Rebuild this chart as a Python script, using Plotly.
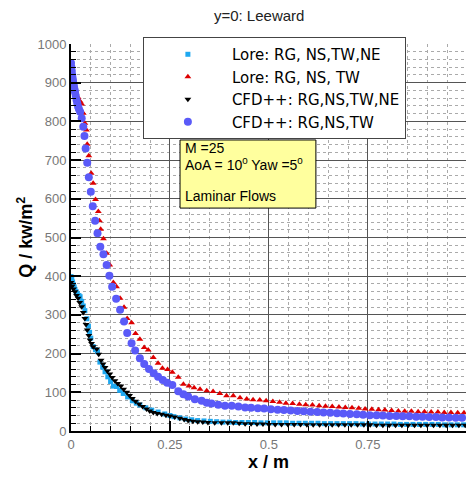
import plotly.graph_objects as go

# Lore: RG, NS,TW,NE  (light blue squares)
x_lore_ne = [0.000, 0.002, 0.004, 0.006, 0.008, 0.010, 0.013, 0.016, 0.020, 0.023,
             0.027, 0.031, 0.035, 0.040, 0.044, 0.047, 0.050, 0.056, 0.062, 0.067,
             0.073, 0.080, 0.086, 0.093, 0.100, 0.107, 0.115, 0.123, 0.132, 0.143,
             0.155, 0.165, 0.174, 0.189, 0.204, 0.220, 0.237, 0.250, 0.260, 0.275,
             0.290, 0.305, 0.320, 0.336, 0.352, 0.368, 0.384, 0.400, 0.416, 0.432,
             0.448, 0.464, 0.480, 0.496, 0.512, 0.528, 0.544, 0.560, 0.576, 0.592,
             0.608, 0.624, 0.640, 0.656, 0.672, 0.688, 0.704, 0.720, 0.736, 0.752,
             0.768, 0.784, 0.800, 0.816, 0.832, 0.848, 0.864, 0.880, 0.896, 0.912,
             0.928, 0.944, 0.960, 0.976, 0.992]
q_lore_ne = [399, 392, 385, 378, 372, 366, 360, 355, 350, 347,
             335, 323, 311, 290, 271, 255, 240, 218, 210, 205,
             178, 165, 153, 140, 128, 116, 115, 105, 97, 88,
             78, 72, 67, 60, 54, 49, 44, 40, 37, 34,
             31, 29, 27, 26, 25, 24, 23, 23, 22, 22,
             22, 22, 21, 21, 21, 21, 21, 20, 20, 20,
             20, 20, 19, 19, 19, 19, 19, 19, 18, 18,
             18, 18, 18, 18, 17, 17, 17, 17, 17, 17,
             17, 16, 16, 16, 16]

# Lore: RG, NS, TW  (red triangles)
x_lore_tw = [0.000, 0.006, 0.012, 0.018, 0.023, 0.027, 0.031, 0.035, 0.039, 0.041,
             0.045, 0.051, 0.056, 0.062, 0.069, 0.072, 0.075, 0.082, 0.090, 0.098,
             0.107, 0.115, 0.124, 0.134, 0.142, 0.153, 0.163, 0.174, 0.185, 0.195,
             0.208, 0.220, 0.231, 0.244, 0.256, 0.271, 0.284, 0.298, 0.311, 0.326,
             0.343, 0.359, 0.376, 0.393, 0.410, 0.427, 0.444, 0.460, 0.477, 0.493,
             0.510, 0.527, 0.543, 0.560, 0.577, 0.593, 0.610, 0.627, 0.643, 0.660,
             0.677, 0.693, 0.710, 0.727, 0.743, 0.760, 0.777, 0.793, 0.810, 0.827,
             0.843, 0.860, 0.877, 0.893, 0.910, 0.927, 0.943, 0.960, 0.977, 0.993]
q_lore_tw = [915, 895, 878, 862, 852, 845, 821, 795, 778, 741,
             711, 666, 640, 598, 567, 543, 521, 497, 459, 429,
             384, 373, 343, 320, 291, 280, 252, 237, 216, 209,
             190, 175, 162, 159, 152, 139, 121, 116, 112, 108,
             104, 102, 97, 91, 91, 86, 83, 81, 80, 78,
             76, 74, 72, 71, 69, 68, 67, 65, 64, 63,
             62, 61, 60, 59, 57, 56, 55, 54, 53, 52,
             51, 51, 50, 50, 49, 49, 48, 48, 47, 47]

# CFD++: RG,NS,TW,NE  (black triangles down)
x_cfd_ne = [0.000, 0.003, 0.006, 0.010, 0.014, 0.018, 0.022, 0.027, 0.031, 0.035,
            0.038, 0.041, 0.045, 0.048, 0.052, 0.056, 0.065, 0.070, 0.076, 0.081,
            0.086, 0.092, 0.098, 0.104, 0.111, 0.118, 0.126, 0.133, 0.141, 0.148,
            0.155, 0.163, 0.172, 0.181, 0.191, 0.199, 0.208, 0.218, 0.229, 0.240,
            0.250, 0.262, 0.275, 0.286, 0.296, 0.308, 0.320, 0.333, 0.346, 0.363,
            0.380, 0.396, 0.410, 0.425, 0.440, 0.455, 0.470, 0.485, 0.500, 0.516,
            0.532, 0.548, 0.564, 0.580, 0.596, 0.612, 0.628, 0.644, 0.660, 0.676,
            0.692, 0.708, 0.724, 0.740, 0.756, 0.772, 0.788, 0.804, 0.820, 0.836,
            0.852, 0.868, 0.884, 0.900, 0.916, 0.932, 0.948, 0.964, 0.980, 0.996]
q_cfd_ne = [384, 375, 367, 360, 350, 343, 332, 321, 306, 291,
            275, 261, 247, 235, 226, 218, 212, 198, 183, 173,
            164, 155, 147, 138, 130, 123, 116, 108, 100, 92,
            84, 77, 70, 63, 57, 52, 48, 45, 43, 41,
            39, 36, 33, 30, 27, 25, 24, 23, 22, 21,
            21, 21, 21, 20, 19, 19, 18, 18, 17, 17,
            17, 17, 17, 17, 16, 16, 16, 16, 16, 16,
            16, 16, 16, 16, 16, 15, 15, 15, 15, 15,
            15, 15, 15, 15, 15, 15, 15, 15, 15, 15]

# CFD++: RG,NS,TW  (blue circles)
x_cfd_tw = [0.000, 0.001, 0.002, 0.003, 0.004, 0.005, 0.006, 0.007, 0.008, 0.009,
            0.010, 0.012, 0.014, 0.016, 0.018, 0.020, 0.023, 0.027, 0.031, 0.034,
            0.037, 0.041, 0.045, 0.050, 0.055, 0.061, 0.067, 0.074, 0.082, 0.090,
            0.097, 0.104, 0.114, 0.124, 0.134, 0.142, 0.153, 0.162, 0.174, 0.185,
            0.197, 0.209, 0.220, 0.232, 0.243, 0.256, 0.271, 0.284, 0.296, 0.313,
            0.330, 0.343, 0.355, 0.372, 0.389, 0.406, 0.423, 0.440, 0.455, 0.472,
            0.488, 0.505, 0.522, 0.538, 0.555, 0.572, 0.588, 0.605, 0.622, 0.638,
            0.655, 0.672, 0.688, 0.705, 0.722, 0.738, 0.755, 0.772, 0.788, 0.805,
            0.822, 0.838, 0.855, 0.872, 0.888, 0.905, 0.922, 0.938, 0.955, 0.972,
            0.988]
q_cfd_tw = [951, 940, 930, 920, 912, 905, 898, 892, 886, 881,
            876, 866, 855, 846, 838, 832, 825, 808, 786, 762,
            730, 693, 656, 618, 581, 543, 511, 476, 457, 429,
            401, 373, 342, 313, 283, 253, 227, 208, 188, 173,
            160, 149, 140, 132, 125, 119, 103, 95, 89, 82,
            78, 73, 71, 68, 65, 65, 63, 61, 60, 59,
            58, 56, 55, 54, 53, 52, 51, 50, 49, 48,
            47, 46, 45, 44, 43, 42, 41, 41, 40, 39,
            39, 38, 38, 37, 37, 36, 36, 35, 35, 34,
            34]

x_ticks = [0, 0.25, 0.5, 0.75]
x_ticktext = ['0', '0.25', '0.5', '0.75']
y_ticks = list(range(0, 1001, 100))

font_family = 'Liberation Sans, Arial, sans-serif'

fig = go.Figure()
fig.add_trace(go.Scatter(x=x_lore_ne, y=q_lore_ne, mode='markers', name='Lore: RG, NS,TW,NE',
                         marker=dict(symbol='square', size=5, color='#1ea8f0')))
fig.add_trace(go.Scatter(x=x_lore_tw, y=q_lore_tw, mode='markers', name='Lore: RG, NS, TW',
                         marker=dict(symbol='triangle-up', size=6, color='#dd0000')))
fig.add_trace(go.Scatter(x=x_cfd_ne, y=q_cfd_ne, mode='markers', name='CFD++: RG,NS,TW,NE',
                         marker=dict(symbol='triangle-down', size=6, color='black')))
fig.add_trace(go.Scatter(x=x_cfd_tw, y=q_cfd_tw, mode='markers', name='CFD++: RG,NS,TW',
                         marker=dict(symbol='circle', size=8, color='#5a5af8')))

minor_grid = dict(showgrid=True, gridcolor='#aaaaaa', griddash='dot', gridwidth=1,
                  ticks='inside', ticklen=5, tickwidth=1, tickcolor='black')

fig.update_xaxes(range=[0, 0.998], tickvals=x_ticks, ticktext=x_ticktext, automargin=True,
                 showgrid=True, gridcolor='#555555', gridwidth=1, zeroline=False,
                 showline=True, linecolor='black', linewidth=2,
                 ticks='inside', ticklen=10, tickwidth=2, tickcolor='black',
                 tickfont=dict(size=13, color='#777777', family=font_family),
                 minor=dict(dtick=0.05, tick0=0, **minor_grid),
                 title=dict(text='<b>x / m</b>', font=dict(size=18, color='black', family=font_family),
                            standoff=3))
fig.update_yaxes(range=[0, 1000], tickvals=y_ticks, automargin=False,
                 showgrid=True, gridcolor='#555555', gridwidth=1, zeroline=False,
                 showline=True, linecolor='black', linewidth=2,
                 ticks='inside', ticklen=10, tickwidth=2, tickcolor='black',
                 tickfont=dict(size=13, color='#777777', family=font_family),
                 minor=dict(dtick=20, tick0=0, **minor_grid))

# y axis title, placed a little closer to the tick labels than plotly's default
fig.add_annotation(text='<b>Q / kw/m<sup>2</sup></b>', xref='paper', yref='paper',
                   x=-0.116, y=0.5, textangle=-90, showarrow=False,
                   xanchor='center', yanchor='middle',
                   font=dict(size=18, color='black', family=font_family))

# condition box
fig.add_shape(type='rect', xref='paper', yref='paper', x0=0.276, x1=0.620, y0=0.576, y1=0.752,
              fillcolor='#ffff9e', line=dict(color='black', width=1), layer='above')
box_lines = ['M =25', 'AoA = 10<sup>0</sup> Yaw =5<sup>0</sup>', 'Laminar Flows']
box_y = [0.731, 0.690, 0.607]
for txt, yy in zip(box_lines, box_y):
    fig.add_annotation(text=txt, xref='paper', yref='paper', x=0.284, y=yy,
                       xanchor='left', yanchor='middle', showarrow=False,
                       font=dict(size=14, color='black', family=font_family))

fig.update_layout(
    width=467, height=477,
    margin=dict(l=71, r=1, t=44, b=46),
    plot_bgcolor='white', paper_bgcolor='white',
    font=dict(family=font_family),
    title=dict(text='y=0: Leeward', x=0.555, xanchor='center', y=0.968, yanchor='middle',
               font=dict(size=15, color='#222222', family=font_family)),
    legend=dict(x=0.182, y=1.018, xanchor='left', yanchor='top',
                bgcolor='white', bordercolor='#444444', borderwidth=1,
                itemwidth=78, font=dict(size=15, color='black', family='DejaVu Sans, sans-serif')),
)

# the page body has a default 8px margin; drop it so the figure sits at the window corner
fig.write_html("out.html", config={'displayModeBar': False},
               post_script="document.body.style.margin='0px';")
